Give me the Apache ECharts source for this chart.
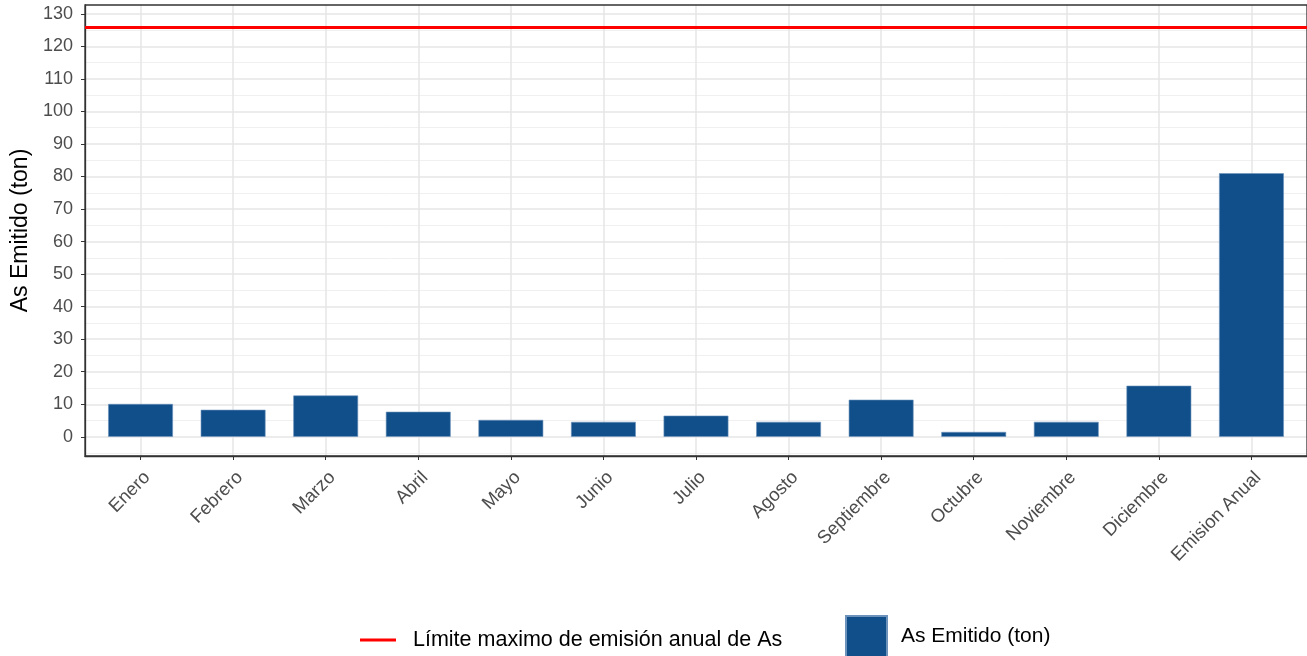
<!DOCTYPE html>
<html>
<head>
<meta charset="utf-8">
<script src="https://cdn.jsdelivr.net/npm/echarts@6/dist/echarts.min.js"></script>
<style>
  html, body { margin: 0; padding: 0; background: #fff; }
  #chart { width: 1307px; height: 656px; }
</style>
</head>
<body>
<div id="chart"></div>
<script>
// data
const meses = ['Enero', 'Febrero', 'Marzo', 'Abril', 'Mayo', 'Junio', 'Julio',
  'Agosto', 'Septiembre', 'Octubre', 'Noviembre', 'Diciembre', 'Emision Anual']
const emitido = [10.1, 8.3, 12.7, 7.7, 5.2, 4.6, 6.5, 4.6, 11.4, 1.5, 4.6, 15.7, 81.0]
const limite = 126
const yTicks = [0, 10, 20, 30, 40, 50, 60, 70, 80, 90, 100, 110, 120, 130]
const yMinor = [-5, 5, 15, 25, 35, 45, 55, 65, 75, 85, 95, 105, 115, 125]
const xPos = meses.map((m, i) => i)

const font = '"Liberation Sans", Arial, sans-serif'
const majorGrid = '#E6E6E6'
const border = '#333333'

const chart = echarts.init(document.getElementById('chart'))

chart.setOption({
  animation: false,
  textStyle: { fontFamily: font },
  grid: {
    left: 85, top: 5, width: 1223, height: 451, z: 5,
    show: true, borderColor: border, borderWidth: 1.3, backgroundColor: 'transparent'
  },
  xAxis: {
    type: 'value', min: -0.6, max: 12.6,
    axisLine: { show: true, onZero: false, lineStyle: { color: border, width: 1.3 } },
    axisTick: { show: true, customValues: xPos, length: 4, lineStyle: { color: border } },
    axisLabel: {
      customValues: xPos,
      formatter: v => meses[v],
      rotate: 45, margin: 12,
      verticalAlign: 'top',
      color: '#4D4D4D', fontSize: 18.5, fontFamily: font
    },
    splitLine: { show: true, lineStyle: { color: majorGrid, width: 1.5 } }
  },
  yAxis: [
    {
      type: 'value', min: -5.9, max: 132.7,
      name: 'As Emitido (ton)', nameLocation: 'middle', nameGap: 52,
      nameTextStyle: { color: '#000', fontSize: 23, fontFamily: font },
      axisLine: { show: true, onZero: false, lineStyle: { color: border, width: 1.3 } },
      axisTick: { show: true, customValues: yTicks, length: 4, lineStyle: { color: border } },
      axisLabel: { customValues: yTicks, margin: 12, color: '#4D4D4D', fontSize: 18, fontFamily: font },
      splitLine: { show: true, lineStyle: { color: majorGrid, width: 1.5 } }
    },
    {
      type: 'value', min: -5.9, max: 132.7, position: 'left',
      axisLine: { show: false },
      axisTick: { show: false, customValues: yMinor },
      axisLabel: { show: false },
      splitLine: { show: true, lineStyle: { color: '#F0F0F0', width: 1 } }
    }
  ],
  legend: [
    {
      left: 355, top: 624,
      itemWidth: 36, itemHeight: 3,
      icon: 'rect',
      data: [{ name: 'Límite maximo de emisión anual de As', itemStyle: { color: '#FF0000' } }],
      textStyle: { color: '#000', fontSize: 21.5, fontFamily: font, padding: [0, 0, 0, 12] }
    },
    {
      left: 840, top: 610,
      itemWidth: 41, itemHeight: 41,
      icon: 'rect',
      data: ['As Emitido (ton)'],
      textStyle: { color: '#000', fontSize: 21, fontFamily: font, padding: [3, 0, 0, 9] }
    }
  ],
  series: [
    {
      name: 'As Emitido (ton)',
      type: 'bar',
      barWidth: '70%',
      data: emitido.map((v, i) => [i, v]),
      itemStyle: { color: '#114F8A', borderColor: '#6D93BC', borderWidth: 0.6 }
    },
    {
      name: 'Límite maximo de emisión anual de As',
      type: 'line',
      data: [],
      itemStyle: { color: '#FF0000' },
      lineStyle: { color: '#FF0000' },
      markLine: {
        silent: true,
        symbol: 'none',
        label: { show: false },
        lineStyle: { color: '#FF0000', width: 3, type: 'solid' },
        data: [{ yAxis: limite }]
      }
    }
  ]
})
</script>
</body>
</html>
